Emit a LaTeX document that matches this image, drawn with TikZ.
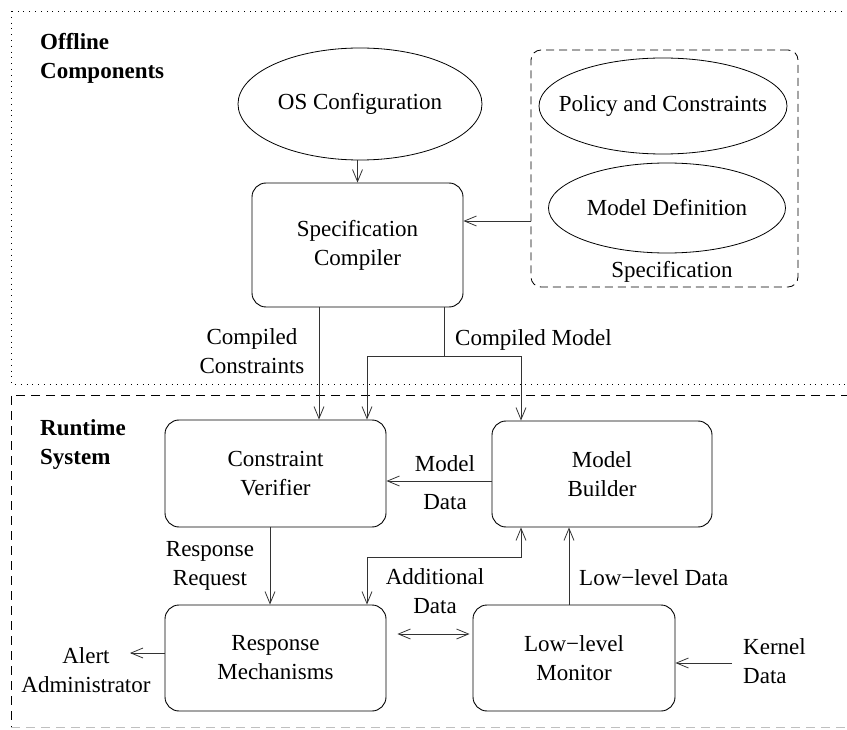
\documentclass[tikz,border=0pt]{standalone}
\usepackage{fontspec}
\setmainfont{Liberation Serif}
\usetikzlibrary{arrows.meta,shapes.geometric}
\begin{document}
\begin{tikzpicture}[x=1pt,y=-1pt,
  every node/.style={font=\fontsize{23}{29}\selectfont, inner sep=0pt},
  rbox/.style={draw, line width=0.9pt, rounded corners=14pt, align=center},
  oval/.style={draw, ellipse, line width=0.8pt, align=center, inner xsep=-60pt, inner ysep=-10pt},
  lbl/.style={align=center},
  title/.style={align=left, font=\fontsize{23}{29}\selectfont\bfseries},
  conn/.style={line width=0.8pt, draw=black!80},
  arr/.style={conn, -{Straight Barb[length=12pt,width=10pt]}},
  dbl/.style={conn, {Straight Barb[length=12pt,width=10pt]}-{Straight Barb[length=12pt,width=10pt]}}]

\useasboundingbox (0,0) rectangle (847,730);

% region frames
\draw[line width=0.8pt, dash pattern=on 0.8pt off 5pt] (11,11) rectangle (880,384);
\draw[line width=0.8pt, dash pattern=on 9pt off 6pt] (880,395) -- (11,395) -- (11,727);
\draw[line width=0.8pt, gray!50, dash pattern=on 9pt off 6pt] (11,727) -- (880,727);

% titles
\node[title, anchor=north west] (off) at (40,33) {Offline\\Components};
\node[title, anchor=north west] (run) at (40,419) {Runtime\\System};

% offline nodes
\node[oval, minimum width=244pt, minimum height=112pt] (os) at (360,104) {OS Configuration};
\node[rbox, minimum width=211pt, minimum height=124pt] (comp) at (357.5,245) {Specification\\Compiler};
\node[draw, rounded corners=10pt, minimum width=267pt, minimum height=237pt, dash pattern=on 8pt off 5pt, line width=0.8pt] (spec) at (664.5,168.5) {};
\node[oval, minimum width=248pt, minimum height=96pt] (pol) at (663,106) {Policy and Constraints};
\node[oval, minimum width=237pt, minimum height=90pt] (mdef) at (667,208) {Model Definition};
\node[anchor=base] (speclbl) at (672,278) {Specification};

% runtime nodes
\node[rbox, minimum width=221pt, minimum height=107pt] (cv) at (275.5,473.5) {Constraint\\Verifier};
\node[rbox, minimum width=220pt, minimum height=106pt] (mb) at (602,474) {Model\\Builder};
\node[rbox, minimum width=221pt, minimum height=106pt] (rm) at (275.5,658) {Response\\Mechanisms};
\node[rbox, minimum width=202pt, minimum height=106pt] (lm) at (574,658) {Low−level\\Monitor};

% helper coordinates
\coordinate (sy) at (0,221);
\coordinate (xcc) at (319,0);
\coordinate (cm) at (444,356);
\coordinate (cml) at (367,356);
\coordinate (cmr) at (521,356);
\coordinate (mdy) at (0,481);
\coordinate (rrx) at (270,0);
\coordinate (ad1) at (367,557);
\coordinate (ad2) at (521,557);
\coordinate (ldx) at (569,0);
\coordinate (day) at (0,634);
\coordinate (alt) at (130,653);
\coordinate (kd) at (732,663);

% offline connectors
\draw[arr] (comp.north |- os.south) -- (comp.north);
\draw[arr] (spec.west |- sy) -- (comp.east |- sy);
\draw[arr] (xcc |- comp.south) -- (xcc |- cv.north);
\draw[conn] (cm |- comp.south) -- (cm);
\draw[arr] (cm) -| (cv.north -| cml);
\draw[arr] (cm) -| (mb.north -| cmr);

% runtime connectors
\draw[arr] (mb.west |- mdy) -- (cv.east |- mdy);
\draw[arr] (rrx |- cv.south) -- (rrx |- rm.north);
\draw[dbl] (ad1 |- rm.north) -- (ad1) -- (ad2) -- (ad2 |- mb.south);
\draw[arr] (ldx |- lm.north) -- (ldx |- mb.south);
\draw[dbl, shorten <=11pt, shorten >=3pt] (rm.east |- day) -- (lm.west |- day);
\draw[arr] (rm.west |- alt) -- (alt);
\draw[arr] (kd) -- (lm.east |- kd);

% labels
\node[lbl] (lcc) at (252,351) {Compiled\\Constraints};
\node[anchor=base west] (lcm) at (455,345) {Compiled Model};
\node[anchor=base] (lm1) at (445,471) {Model};
\node[anchor=base] (lm2) at (445,509) {Data};
\node[lbl] (lrr) at (210,566) {Response\\Request};
\node[lbl] (lad) at (435,591) {Additional\\Data};
\node[anchor=base west] (lld) at (579,585) {Low−level Data};
\node[lbl] (lal) at (86,670) {Alert\\Administrator};
\node[align=left, anchor=west] (lkd) at (743,661) {Kernel\\Data};
\end{tikzpicture}
\end{document}
